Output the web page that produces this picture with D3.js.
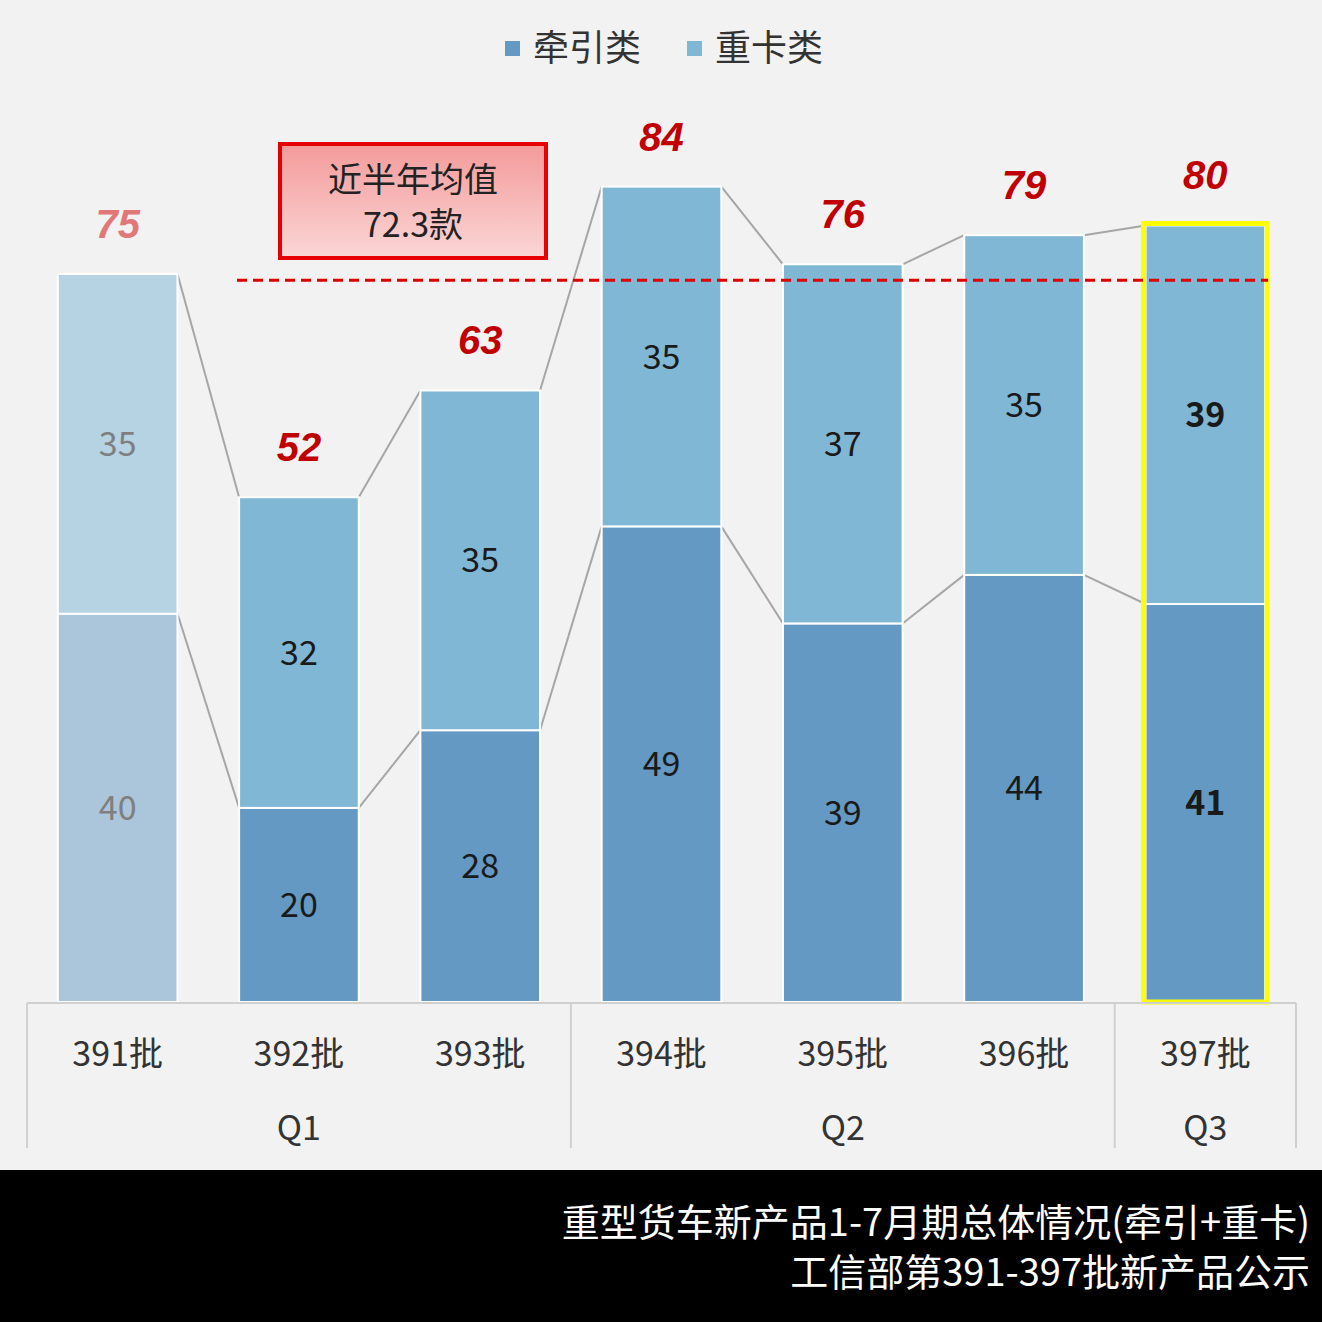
<!DOCTYPE html><html><head><meta charset="utf-8">
<script src="https://cdn.jsdelivr.net/npm/d3@7"></script>
<style>body{margin:0;background:#f2f2f2}</style></head><body>
<svg id="c" width="1322" height="1322"></svg>
<script>
const batches=["391批","392批","393批","394批","395批","396批","397批"];
const quarters=["Q1","Q1","Q1","Q2","Q2","Q2","Q3"];
const tractor=[40,20,28,49,39,44,41];
const heavy=[35,32,35,35,37,35,39];
const totals=[75,52,63,84,76,79,80];
const avg=72.3;
const F="'Noto Sans CJK SC','Noto Sans',sans-serif";
const svg=d3.select("#c");
svg.append("rect").attr("width",1322).attr("height",1322).attr("fill","#f2f2f2");
const x=d3.scaleBand().domain(batches).range([27,1296]).paddingInner(0.34).paddingOuter(0.17);
const y=d3.scaleLinear().domain([0,75]).range([1002,274]);
const bw=x.bandwidth();
const g=svg.append("g");
for(let i=0;i<6;i++){
  const a=x(batches[i])+bw,b=x(batches[i+1]);
  [tractor,totals].forEach(arr=>g.append("line").attr("x1",a).attr("x2",b).attr("y1",y(arr[i])).attr("y2",y(arr[i+1])).attr("stroke","#a6a6a6").attr("stroke-width",2));
}
batches.forEach((d,i)=>{
  const faded=i===0;
  g.append("rect").attr("x",x(d)).attr("width",bw).attr("y",y(tractor[i])).attr("height",y(0)-y(tractor[i])).attr("fill",faded?"#abc5db":"#6399c3").attr("stroke","#fff").attr("stroke-width",2);
  g.append("rect").attr("x",x(d)).attr("width",bw).attr("y",y(totals[i])).attr("height",y(tractor[i])-y(totals[i])).attr("fill",faded?"#b6d3e3":"#7fb7d4").attr("stroke","#fff").attr("stroke-width",2);
  const cx=x(d)+bw/2, bold=i===6, col=faded?"#7f7f7f":"#1a1a1a";
  g.append("text").attr("x",cx).attr("y",(y(0)+y(tractor[i]))/2+12).attr("text-anchor","middle").attr("font-size",34).attr("font-family",F).attr("font-weight",bold?"bold":"normal").attr("fill",col).text(tractor[i]);
  g.append("text").attr("x",cx).attr("y",(y(tractor[i])+y(totals[i]))/2+12).attr("text-anchor","middle").attr("font-size",34).attr("font-family",F).attr("font-weight",bold?"bold":"normal").attr("fill",col).text(heavy[i]);
  g.append("text").attr("x",cx).attr("y",y(totals[i])-36).attr("text-anchor","middle").attr("font-size",40).attr("font-style","italic").attr("font-weight","bold").attr("font-family","Liberation Sans,Arial,sans-serif").attr("fill",faded?"#e07878":"#c00000").text(totals[i]);
  g.append("text").attr("x",cx).attr("y",1066).attr("text-anchor","middle").attr("font-size",34).attr("font-family",F).attr("fill","#333").text(d);
});
const l=batches[6];
g.append("rect").attr("x",x(l)-2).attr("y",y(totals[6])-2).attr("width",bw+4).attr("height",y(0)-y(totals[6])+2).attr("fill","none").attr("stroke","#ffff00").attr("stroke-width",5);
svg.append("line").attr("x1",27).attr("x2",1296).attr("y1",1003).attr("y2",1003).attr("stroke","#d0d0d0").attr("stroke-width",2);
[27,1296].concat([3,6].map(i=>(x(batches[i-1])+bw+x(batches[i]))/2)).forEach(v=>svg.append("line").attr("x1",v).attr("x2",v).attr("y1",1003).attr("y2",1148).attr("stroke","#d0d0d0").attr("stroke-width",2));
[["Q1",1],["Q2",4],["Q3",6]].forEach(([q,i])=>svg.append("text").attr("x",x(batches[i])+bw/2).attr("y",1140).attr("text-anchor","middle").attr("font-size",34).attr("font-family",F).attr("fill","#333").text(q));
svg.append("line").attr("x1",237).attr("x2",1268).attr("y1",y(avg)-20).attr("y2",y(avg)-20).attr("stroke","#e00000").attr("stroke-width",3).attr("stroke-dasharray","10,6");
const gr=svg.append("defs").append("linearGradient").attr("id","gb").attr("x1",0).attr("x2",0).attr("y1",0).attr("y2",1);
gr.append("stop").attr("offset",0).attr("stop-color","#f49a9a");gr.append("stop").attr("offset",1).attr("stop-color","#fbd6d6");
svg.append("rect").attr("x",280).attr("y",144).attr("width",266).attr("height",114).attr("fill","url(#gb)").attr("stroke","#e60000").attr("stroke-width",4);
svg.append("text").attr("x",413).attr("y",192).attr("text-anchor","middle").attr("font-size",34).attr("font-family",F).attr("fill","#222").text("近半年均值");
svg.append("text").attr("x",413).attr("y",237).attr("text-anchor","middle").attr("font-size",34).attr("font-family",F).attr("fill","#222").text(avg+"款");
[["牵引类","#6399c3",505],["重卡类","#7fb7d4",687]].forEach(([t,c,lx])=>{
  svg.append("rect").attr("x",lx).attr("y",41).attr("width",15).attr("height",15).attr("fill",c);
  svg.append("text").attr("x",lx+28).attr("y",61).attr("font-size",36).attr("font-family",F).attr("fill","#333").text(t);
});
svg.append("rect").attr("x",0).attr("y",1170).attr("width",1322).attr("height",152).attr("fill","#000");
svg.append("text").attr("x",1310).attr("y",1236).attr("text-anchor","end").attr("font-size",38).attr("font-family",F).attr("fill","#fff").text("重型货车新产品1-7月期总体情况(牵引+重卡)");
svg.append("text").attr("x",1310).attr("y",1286).attr("text-anchor","end").attr("font-size",38).attr("font-family",F).attr("fill","#fff").text("工信部第391-397批新产品公示");
</script></body></html>
